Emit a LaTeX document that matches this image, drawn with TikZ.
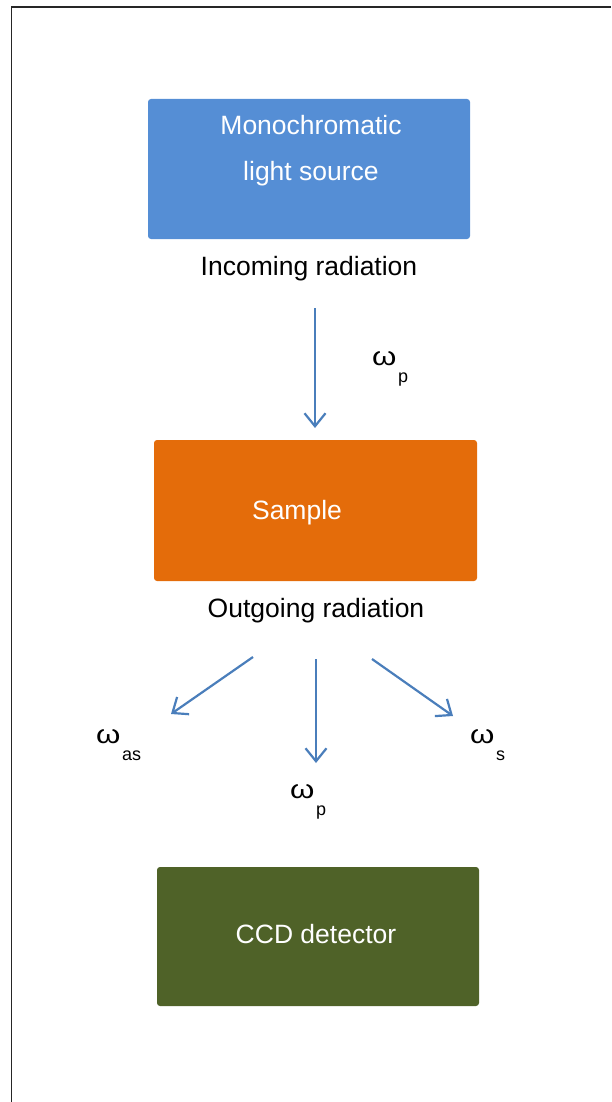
\documentclass[tikz,border=0pt]{standalone}
\usepackage{fontspec}
\setmainfont{Liberation Sans}
\usetikzlibrary{arrows.meta}
\definecolor{boxblue}{RGB}{85,142,213}
\definecolor{boxorange}{RGB}{228,108,10}
\definecolor{boxgreen}{RGB}{79,98,40}
\definecolor{arrowblue}{RGB}{74,126,187}
\tikzset{
  panel/.style={rounded corners=3pt, inner sep=0pt, draw=none},
  boxtext/.style={text=white, inner sep=0pt, anchor=base, font=\fontsize{26.5}{30}\selectfont},
  plaintext/.style={text=black, inner sep=0pt, anchor=base, font=\fontsize{26.5}{30}\selectfont},
  ray/.style={arrowblue, line width=2.2pt, -{Straight Barb[length=13pt,width=21pt,line width=2.2pt]}},
  freq/.style={inner sep=0pt, anchor=base west, font=\fontsize{26}{30}\selectfont},
}
\newcommand{\omg}{\scalebox{1.2}[1]{ω}}
\newcommand{\subl}[1]{\kern1.5pt\raisebox{-17pt}{\fontsize{18}{20}\selectfont #1}}
\begin{document}
\begin{tikzpicture}[x=1pt,y=-1pt]
\useasboundingbox (0,0) rectangle (611,1102);
% frame
\draw[line width=1.6pt, black!85] (11.5,1102) -- (11.5,7) -- (611,7);
% boxes
\node[panel, fill=boxblue, minimum width=322pt, minimum height=140pt] (src) at (309,169) {};
\node[boxtext] (srct1) at (311,135) {Monochromatic};
\node[boxtext] (srct2) at (311,181) {light source};
\node[plaintext] (inc) at (309,275) {Incoming radiation};

\node[panel, fill=boxorange, minimum width=323pt, minimum height=141pt] (smp) at (315.5,510.5) {};
\node[boxtext] (smpt) at (297,519) {Sample};
\node[plaintext] (out) at (316,617) {Outgoing radiation};

\node[panel, fill=boxgreen, minimum width=322pt, minimum height=139pt] (ccd) at (318,936.5) {};
\node[boxtext] (ccdt) at (316,943) {CCD detector};

% connectors
\coordinate (a1s) at (315,308);
\coordinate (a1e) at (315,428);
\draw[ray] (a1s) -- (a1e);

\coordinate (l1s) at (253,657);
\coordinate (l1e) at (171,714);
\draw[ray] (l1s) -- (l1e);
\coordinate (m1s) at (316,659);
\coordinate (m1e) at (316,763);
\draw[ray] (m1s) -- (m1e);
\coordinate (r1s) at (372,659);
\coordinate (r1e) at (453,716);
\draw[ray] (r1s) -- (r1e);

% frequency labels
\node[freq] (wp1) at (372,365) {\omg\subl{p}};
\node[freq] (was) at (96,743) {\omg\subl{as}};
\node[freq] (wp2) at (290,798) {\omg\subl{p}};
\node[freq] (ws) at (470,743) {\omg\subl{s}};
\end{tikzpicture}
\end{document}
